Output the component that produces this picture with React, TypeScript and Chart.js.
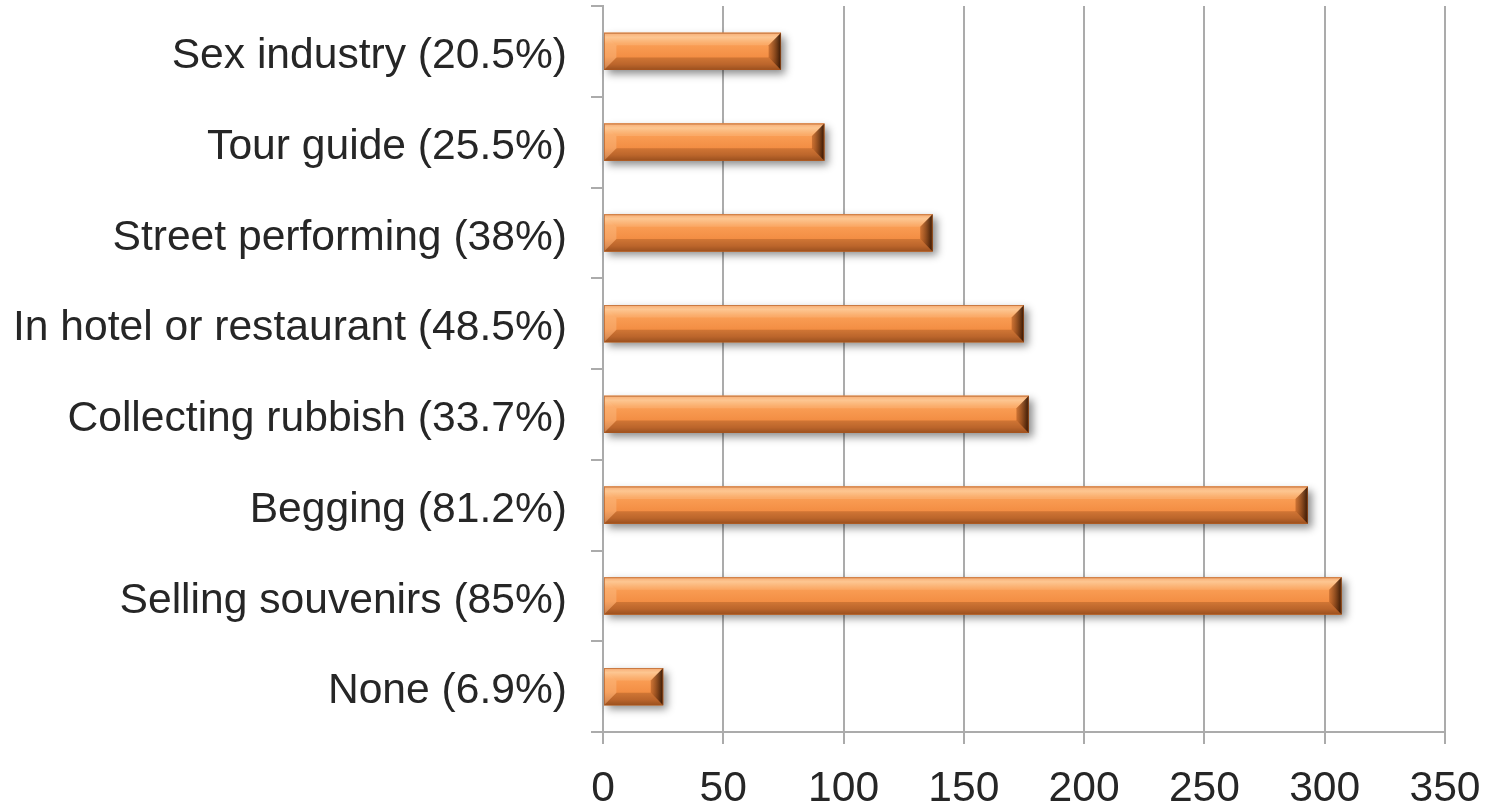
import React, { useEffect, useRef } from "react";
import { Chart, registerables } from "chart.js";

Chart.register(...registerables);

const categories: string[] = [
  "Sex industry (20.5%)",
  "Tour guide (25.5%)",
  "Street performing (38%)",
  "In hotel or restaurant (48.5%)",
  "Collecting rubbish (33.7%)",
  "Begging (81.2%)",
  "Selling souvenirs (85%)",
  "None (6.9%)",
];
const counts: number[] = [74, 92, 137, 175, 177, 293, 307, 25];
const xMin = 0;
const xMax = 350;
const xStep = 50;

const FONT = '"Liberation Sans", Arial, Helvetica, sans-serif';
const GRID = "#ABABAB";

const bevelPlugin = {
  id: "bevel",
  beforeDatasetsDraw(chart: any) {
    const ctx = chart.ctx;
    const meta = chart.getDatasetMeta(0);
    meta.data.forEach((el: any) => {
      const { x, y, base, height } = el.getProps(["x", "y", "base", "height"], true);
      ctx.save();
      ctx.shadowColor = "rgba(0,0,0,0.45)";
      ctx.shadowBlur = 8;
      ctx.shadowOffsetX = 4;
      ctx.shadowOffsetY = 4;
      ctx.fillStyle = "#C46A2C";
      ctx.fillRect(base, y - height / 2, x - base, height);
      ctx.restore();
    });
  },
  afterDatasetsDraw(chart: any) {
    const ctx = chart.ctx;
    const meta = chart.getDatasetMeta(0);
    meta.data.forEach((el: any) => {
      const { x, y, base, height } = el.getProps(["x", "y", "base", "height"], true);
      const l = base, r = x, t = y - height / 2, bt = y + height / 2;
      const b = Math.min(13, (r - l) / 3, height / 3);
      ctx.save();
      const g = ctx.createLinearGradient(0, t, 0, bt);
      g.addColorStop(0, "#F5A064");
      g.addColorStop(0.12, "#FDC088");
      g.addColorStop(0.3, "#FA9E55");
      g.addColorStop(0.65, "#F38E44");
      g.addColorStop(0.85, "#D57636");
      g.addColorStop(1, "#A85A26");
      ctx.fillStyle = g;
      ctx.fillRect(l, t, r - l, height);
      // top bevel
      ctx.beginPath();
      ctx.moveTo(l, t); ctx.lineTo(r, t); ctx.lineTo(r - b, t + b); ctx.lineTo(l + b, t + b); ctx.closePath();
      ctx.fillStyle = "rgba(255,225,185,0.2)";
      ctx.fill();
      // bottom bevel
      ctx.beginPath();
      ctx.moveTo(l, bt); ctx.lineTo(r, bt); ctx.lineTo(r - b, bt - b); ctx.lineTo(l + b, bt - b); ctx.closePath();
      ctx.fillStyle = "rgba(110,50,10,0.25)";
      ctx.fill();
      // left bevel
      ctx.beginPath();
      ctx.moveTo(l, t); ctx.lineTo(l + b, t + b); ctx.lineTo(l + b, bt - b); ctx.lineTo(l, bt); ctx.closePath();
      ctx.fillStyle = "rgba(255,220,180,0.25)";
      ctx.fill();
      // right bevel
      ctx.beginPath();
      ctx.moveTo(r, t); ctx.lineTo(r - b, t + b); ctx.lineTo(r - b, bt - b); ctx.lineTo(r, bt); ctx.closePath();
      const gr = ctx.createLinearGradient(r - b, 0, r, 0);
      gr.addColorStop(0, "rgba(170,85,30,0.55)");
      gr.addColorStop(1, "rgba(40,15,0,0.95)");
      ctx.fillStyle = gr;
      ctx.fill();
      // edge
      ctx.strokeStyle = "rgba(170,85,30,0.6)";
      ctx.lineWidth = 1;
      ctx.strokeRect(l + 0.5, t + 0.5, r - l - 1, height - 1);
      ctx.restore();
    });
  },
};

export default function App() {
  const ref = useRef<HTMLCanvasElement | null>(null);
  useEffect(() => {
    if (!ref.current) return;
    const chart = new Chart(ref.current, {
      type: "bar",
      data: {
        labels: categories,
        datasets: [
          {
            data: counts,
            backgroundColor: "#F79646",
            borderWidth: 0,
            barPercentage: 0.41,
            categoryPercentage: 1,
          },
        ],
      },
      options: {
        indexAxis: "y",
        animation: false,
        responsive: false,
        devicePixelRatio: 1,
        layout: { padding: { top: 6, right: 0, bottom: 0, left: 0 } },
        plugins: { legend: { display: false }, tooltip: { enabled: false } },
        scales: {
          x: {
            min: xMin,
            max: xMax,
            ticks: { stepSize: xStep, color: "#262626", font: { family: FONT, size: 42.6 }, padding: 20 },
            grid: { color: GRID, lineWidth: 2, tickLength: 12, drawOnChartArea: true },
            border: { display: true, color: GRID, width: 2 },
            afterFit: (s: any) => { s.height = 74; s.paddingRight = 42; s.paddingLeft = 0; },
          },
          y: {
            ticks: { color: "#262626", font: { family: FONT, size: 42.6, lineHeight: 0.05 }, padding: 24, labelOffset: 5 },
            grid: { color: GRID, lineWidth: 2, tickLength: 12, drawOnChartArea: false, offset: true },
            border: { display: true, color: GRID, width: 2 },
            afterFit: (s: any) => { s.width = 603; s.paddingTop = 0; s.paddingBottom = 0; },
          },
        },
      },
      plugins: [bevelPlugin],
    } as any);
    return () => chart.destroy();
  }, []);
  return (
    <div style={{ position: "fixed", left: 0, top: 0, width: 1487, height: 806, background: "#fff" }}>
      <canvas ref={ref} width={1487} height={806} style={{ width: 1487, height: 806 }} />
    </div>
  );
}
